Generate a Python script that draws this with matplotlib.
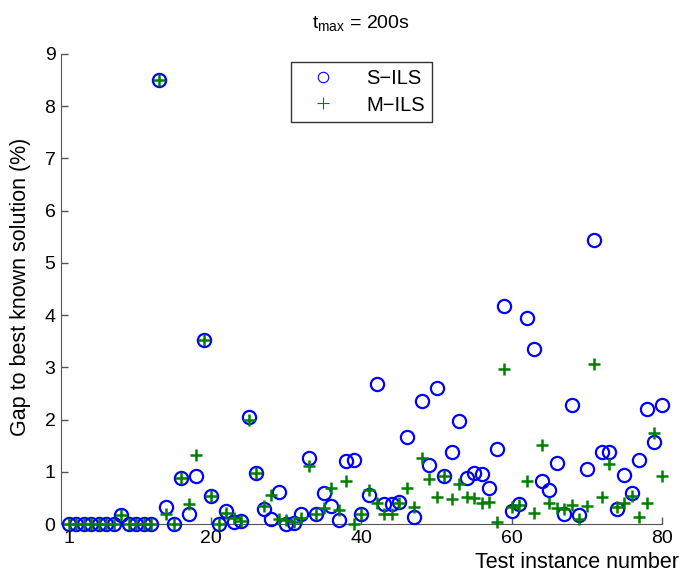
import numpy as np
import matplotlib.pyplot as plt
from matplotlib.lines import Line2D

plt.rcParams['font.family'] = ['Liberation Sans', 'DejaVu Sans']
plt.rcParams['mathtext.fontset'] = 'custom'
plt.rcParams['mathtext.rm'] = 'Liberation Sans'

instances = np.arange(1, 81)

s_ils = [0, 0, 0, 0, 0, 0, 0, 0.17, 0, 0,
         0, 0, 8.5, 0.32, 0, 0.89, 0.19, 0.92, 3.52, 0.54,
         0, 0.25, 0.03, 0.05, 2.05, 0.97, 0.28, 0.09, 0.62, 0,
         0.01, 0.19, 1.27, 0.2, 0.59, 0.34, 0.08, 1.2, 1.22, 0.19,
         0.55, 2.68, 0.39, 0.39, 0.43, 1.66, 0.14, 2.36, 1.13, 2.61,
         0.92, 1.38, 1.98, 0.89, 0.98, 0.96, 0.69, 1.43, 4.18, 0.24,
         0.38, 3.95, 3.35, 0.83, 0.66, 1.16, 0.19, 2.28, 0.17, 1.05,
         5.43, 1.38, 1.38, 0.29, 0.94, 0.59, 1.22, 2.21, 1.57, 2.28]

m_ils = [0, 0, 0, 0, 0, 0, 0, 0.17, 0, 0,
         0, 0, 8.5, 0.2, 0, 0.89, 0.38, 1.32, 3.52, 0.54,
         0, 0.22, 0.12, 0.05, 2.0, 0.97, 0.35, 0.55, 0.09, 0.08,
         0.04, 0.12, 1.11, 0.2, 0.3, 0.68, 0.27, 0.82, 0, 0.19,
         0.65, 0.41, 0.19, 0.19, 0.41, 0.68, 0.33, 1.27, 0.86, 0.52,
         0.92, 0.47, 0.77, 0.52, 0.49, 0.4, 0.43, 0.04, 2.96, 0.33,
         0.37, 0.83, 0.22, 1.51, 0.41, 0.31, 0.28, 0.36, 0.09, 0.34,
         3.07, 0.51, 1.15, 0.33, 0.4, 0.54, 0.14, 0.41, 1.75, 0.92]

blue = '#0000ff'
green = '#008000'

fig = plt.figure(figsize=(6.84, 5.81), dpi=100)
ax = fig.add_axes([0.0892, 0.0981, 0.8786, 0.809])

ax.plot(instances, s_ils, 'o', mfc='none', mec=blue, ms=9.5, mew=1.6, clip_on=False, zorder=3)
ax.plot(instances, m_ils, '+', color=green, ms=9, mew=1.8, clip_on=False, zorder=4)

ax.set_xlim(0, 80)
ax.set_ylim(0, 9)
ax.set_xticks([1, 20, 40, 60, 80])
ax.set_yticks(range(10))
ax.tick_params(direction='in', length=5, width=1, color='#555555', labelsize=14, pad=4)
for side in ['top', 'right']:
    ax.spines[side].set_visible(False)
for side in ['left', 'bottom']:
    ax.spines[side].set_color('#555555')

fig.text(0.030, 0.507, 'Gap to best known solution (%)', fontsize=15.5,
         rotation=90, ha='center', va='center')
fig.text(0.992, 0.014, 'Test instance number', fontsize=15.5, ha='right', va='bottom')
fig.text(0.528, 0.960, r'$\mathregular{t_{max}}$ = 200s', fontsize=14, ha='center', va='center')

handles = [Line2D([], [], ls='none', marker='o', mfc='none', mec=blue, ms=7.5, mew=0.8),
           Line2D([], [], ls='none', marker='+', color=green, ms=8.5, mew=0.8)]
leg = ax.legend(handles, ['S\u2212ILS', 'M\u2212ILS'], loc='upper center',
                bbox_to_anchor=(0.5, 0.982), fontsize=14.5, frameon=True, fancybox=False,
                edgecolor='black', handletextpad=0.9, borderpad=0.35, labelspacing=0.35,
                handlelength=2.5, borderaxespad=0)
leg.get_frame().set_linewidth(1)

fig.savefig('out.png', dpi=100)
